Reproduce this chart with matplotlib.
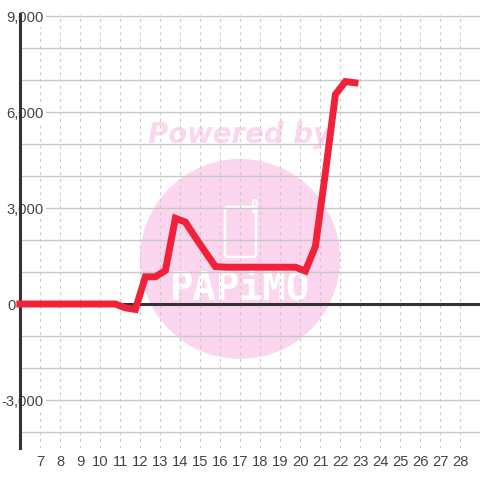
import matplotlib
matplotlib.use("Agg")
import matplotlib.pyplot as plt
from matplotlib.patches import Circle, FancyBboxPatch

plt.rcParams['font.family'] = ['Liberation Sans', 'DejaVu Sans']

x_ticks = list(range(7, 29))
y_major = [-3000, 0, 3000, 6000, 9000]
y_labels = ['-3,000', '0', '3,000', '6,000', '9,000']
y_minor = [-4000, -2000, -1000, 1000, 2000, 4000, 5000, 7000, 8000]
x_vals = [5.8, 6.25, 6.75, 7.25, 7.75, 8.25, 8.75, 9.25, 9.75, 10.25, 10.75, 11.25, 11.75,
          12.25, 12.75, 13.25, 13.75, 14.25, 14.75, 15.25, 15.75, 16.25, 16.75, 17.25, 17.75,
          18.25, 18.75, 19.25, 19.75, 20.25, 20.75, 21.25, 21.75, 22.25, 22.9]
y_vals = [0, 0, 0, 0, 0, 0, 0, 0, 0, 0, 0, -120, -170,
          850, 850, 1050, 2680, 2560, 2080, 1620, 1170, 1150, 1150, 1150, 1150,
          1150, 1150, 1150, 1150, 1030, 1800, 4100, 6550, 6950, 6900]

W = 480
fig = plt.figure(figsize=(4.8, 4.8), dpi=100, facecolor='white')
ax = fig.add_axes([20/W, (W-448)/W, 460/W, 434/W])
ax.set_xlim(5.98, 28.98)
ax.set_ylim(-4500, 9062.5)
for s in ['top', 'right', 'bottom']:
    ax.spines[s].set_visible(False)
ax.spines['left'].set_linewidth(2.2)
ax.spines['left'].set_color('#333333')
ax.spines['left'].set_zorder(3)
ax.patch.set_alpha(0)

ax.set_xticks(x_ticks)
ax.set_yticks(y_major)
ax.set_yticklabels(y_labels)
ax.set_yticks(y_minor, minor=True)
ax.tick_params(axis='both', which='both', length=0)
ax.tick_params(axis='x', labelsize=10.6, labelcolor='#444444', pad=5)
ax.tick_params(axis='y', labelsize=10.6, labelcolor='#444444', pad=-17)
for lab, tick in zip(y_labels, ax.yaxis.get_major_ticks()):
    tick.label1.set_bbox(dict(facecolor='white', edgecolor='none', pad=1.5))
    if lab == '0':
        tick.set_pad(3)
ax.yaxis.grid(True, which='both', color='#c8c8c8', linewidth=1)
ax.xaxis.grid(True, color='#c8c8c8', linewidth=0.8, linestyle=(0, (2.5, 3.5)))
ax.set_axisbelow(True)
ax.axhline(0, color='#333333', linewidth=2.2, zorder=2.5)

bg = fig.add_axes([0, 0, 1, 1], zorder=-1)
bg.set_xlim(0, W)
bg.set_ylim(W, 0)
bg.axis('off')
bg.add_patch(Circle((240, 259), 100, facecolor='#fbd6ee', edgecolor='none'))
bg.text(239, 135, 'Powered by', family='DejaVu Sans', fontsize=19.9, fontweight='bold',
        fontstyle='italic', color='#fbd6ee', ha='center', va='center')
bg.add_patch(FancyBboxPatch((225, 207), 31, 50, boxstyle='round,pad=0,rounding_size=3',
                            facecolor='none', edgecolor='white', linewidth=1.8))
bg.add_patch(FancyBboxPatch((253, 200), 3.5, 12, boxstyle='round,pad=0,rounding_size=1.5',
                            facecolor='none', edgecolor='white', linewidth=1.5))
bg.text(240, 289, 'PAPiMO', family='DejaVu Sans Mono', fontsize=28, fontweight='bold',
        color='white', ha='center', va='center')

ax.plot(x_vals, y_vals, color='#f02139', linewidth=5, solid_joinstyle='miter',
        solid_capstyle='butt', zorder=4, clip_on=False)
fig.savefig('out.png', dpi=100)
